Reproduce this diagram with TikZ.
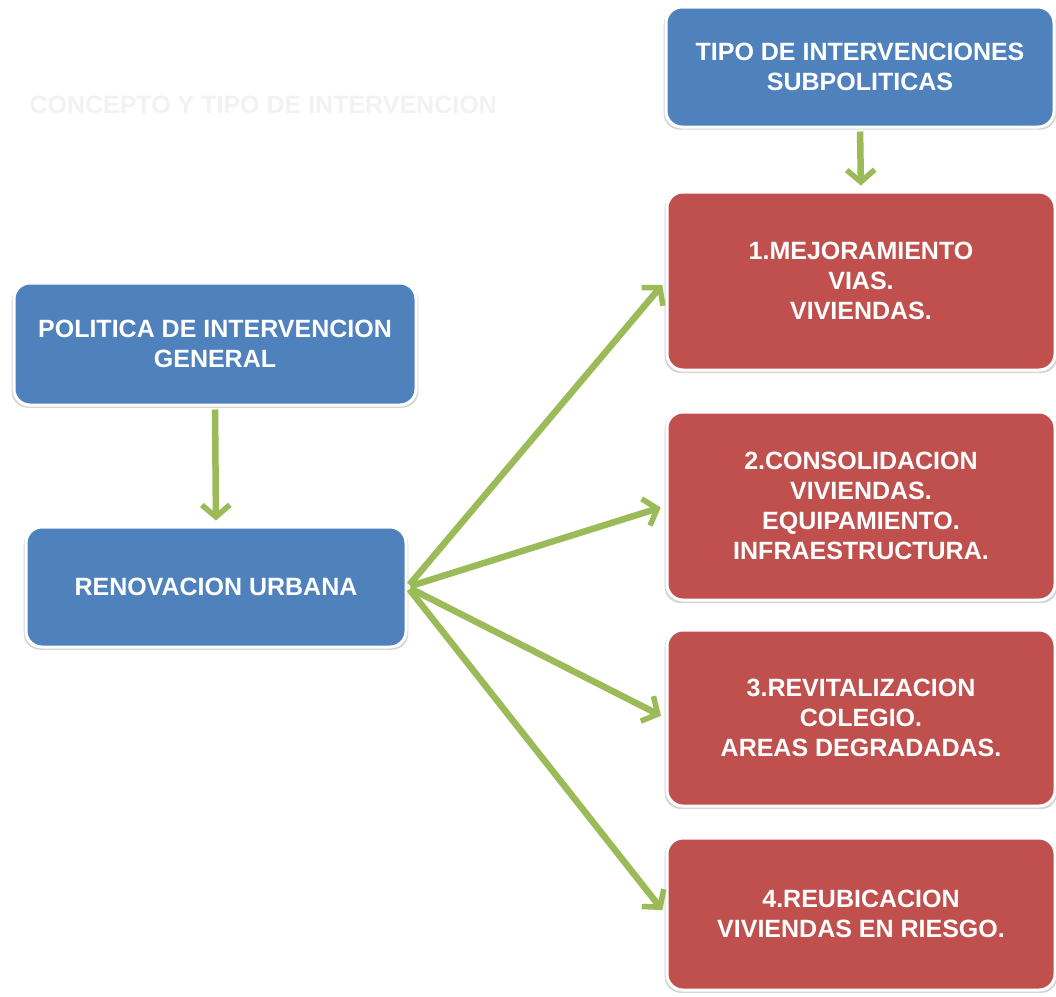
\documentclass[tikz,border=0pt]{standalone}
\usepackage{fontspec}
\setmainfont{Liberation Sans}
\usetikzlibrary{arrows.meta,shadows}
\definecolor{boxblue}{HTML}{4F81BD}
\definecolor{boxred}{HTML}{C0504D}
\definecolor{arrgreen}{HTML}{9BBB59}
\tikzset{
  box/.style={rectangle, rounded corners=16pt, draw=white, line width=3pt,
    text=white, align=center, inner sep=4pt,
    font=\bfseries\fontsize{25}{30}\selectfont,
    general shadow={fill=black!35, shadow xshift=0pt, shadow yshift=-2pt, shadow scale=1.012, opacity=0.45}},
  bluebox/.style={box, fill=boxblue},
  redbox/.style={box, fill=boxred, minimum width=388pt},
  conn/.style={draw=arrgreen, line width=6.5pt, shorten >=5pt, shorten <=3pt,
    -{Straight Barb[length=12pt,width=28pt,line width=5.5pt]}}
}
\begin{document}
\begin{tikzpicture}[x=1pt,y=-1pt]
\useasboundingbox[fill=white] (0,0) rectangle (1056,996);
\node[text=white!95!black, font=\bfseries\fontsize{25}{28}\selectfont, anchor=west] (title) at (26,105) {CONCEPTO Y TIPO DE INTERVENCION};
\node[bluebox, minimum width=388pt, minimum height=120pt] (tipo) at (860,67) {TIPO DE INTERVENCIONES\\SUBPOLITICAS};
\node[redbox, minimum height=178pt] (m1) at (861,281) {1.MEJORAMIENTO\\VIAS.\\VIVIENDAS.};
\node[redbox, minimum height=188pt] (m2) at (861,506) {2.CONSOLIDACION\\VIVIENDAS.\\EQUIPAMIENTO.\\INFRAESTRUCTURA.};
\node[redbox, minimum height=176pt] (m3) at (861,718) {3.REVITALIZACION\\COLEGIO.\\AREAS DEGRADADAS.};
\node[redbox, minimum height=152pt] (m4) at (861,914) {4.REUBICACION\\VIVIENDAS EN RIESGO.};
\node[bluebox, minimum width=402pt, minimum height=122pt] (pol) at (215,344) {POLITICA DE INTERVENCION\\GENERAL};
\node[bluebox, minimum width=380pt, minimum height=120pt] (ren) at (216,587) {RENOVACION URBANA};
\draw[conn] (pol.south) -- (ren.north);
\draw[conn] (tipo.south) -- (m1.north);
\draw[conn] (ren.east) -- (m1.west);
\draw[conn] (ren.east) -- (m2.west);
\draw[conn] (ren.east) -- (m3.west);
\draw[conn] (ren.east) -- (m4.west);
\end{tikzpicture}
\end{document}
